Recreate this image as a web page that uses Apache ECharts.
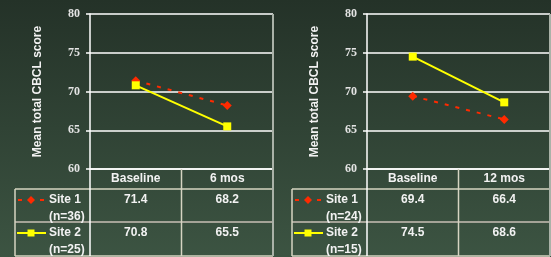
<!DOCTYPE html>
<html><head><meta charset="utf-8">
<script src="https://cdn.jsdelivr.net/npm/echarts@6/dist/echarts.min.js"></script>
<style>html,body{margin:0;padding:0;background:#2f4233}#c{width:551px;height:257px}</style>
</head><body><div id="c"></div>
<script>
// ---- data ----
const leftCategories = ['Baseline', '6 mos'];
const rightCategories = ['Baseline', '12 mos'];
const leftSite1 = [71.4, 68.2];
const leftSite2 = [70.8, 65.5];
const rightSite1 = [69.4, 66.4];
const rightSite2 = [74.5, 68.6];
const leftSite1Label = ['Site 1', '(n=36)'];
const leftSite2Label = ['Site 2', '(n=25)'];
const rightSite1Label = ['Site 1', '(n=24)'];
const rightSite2Label = ['Site 2', '(n=15)'];
const yMin = 60, yMax = 80, yStep = 5;
const yTitle = 'Mean total CBCL score';

// ---- layout ----
const TOP = 14, PLOT_H = 155, PLOT_W = 183;
const HEAD_H = 20, ROW1_H = 33, ROW2_H = 34;
const panels = [
  {gridLeft: 90, tableLeft: 15, cats: leftCategories, s1: leftSite1, s2: leftSite2, l1: leftSite1Label, l2: leftSite2Label},
  {gridLeft: 367, tableLeft: 292, cats: rightCategories, s1: rightSite1, s2: rightSite2, l1: rightSite1Label, l2: rightSite2Label}
];
const RED = '#ff2a00', YEL = '#ffff00', LINEC = '#d6d4c2', TXT = '#f2f2f2';

const chart = echarts.init(document.getElementById('c'), null, {renderer: 'canvas'});

const grids = [], xAxes = [], yAxes = [], series = [], graphics = [];
panels.forEach((p, i) => {
  grids.push({left: p.gridLeft, top: TOP, width: PLOT_W, height: PLOT_H, show: false});
  xAxes.push({
    type: 'category', gridIndex: i, data: p.cats, boundaryGap: true,
    axisLine: {show: true, lineStyle: {color: '#ffffff', width: 1.5}},
    axisTick: {show: false},
    axisLabel: {color: TXT, fontFamily: 'Arial, Liberation Sans', fontWeight: 'bold', fontSize: 12, margin: 4},
    splitLine: {show: false}
  });
  yAxes.push({
    type: 'value', gridIndex: i, min: yMin, max: yMax, interval: yStep,
    name: yTitle, nameLocation: 'middle', nameRotate: 90, nameGap: 46,
    nameTextStyle: {color: TXT, fontFamily: 'Arial, Liberation Sans', fontWeight: 'bold', fontSize: 12},
    axisLine: {show: true, lineStyle: {color: '#ffffff', width: 1.5}},
    axisTick: {show: true, length: 4, lineStyle: {color: '#ffffff', width: 1.5}},
    axisLabel: {color: '#e4e4e4', fontFamily: 'Liberation Serif, Times New Roman', fontWeight: 'bold', fontSize: 12, margin: 10},
    splitLine: {show: true, lineStyle: {color: '#ffffff', width: 1.5}}
  });
  series.push({
    type: 'line', xAxisIndex: i, yAxisIndex: i, data: p.s1, name: p.l1.join(' '),
    symbol: 'diamond', symbolSize: 9, itemStyle: {color: RED},
    lineStyle: {color: RED, width: 2, type: [4, 7]}, z: 2, animation: false
  });
  series.push({
    type: 'line', xAxisIndex: i, yAxisIndex: i, data: p.s2, name: p.l2.join(' '),
    symbol: 'rect', symbolSize: 8, itemStyle: {color: YEL},
    lineStyle: {color: YEL, width: 2, type: 'solid'}, z: 3, animation: false
  });

  // ---- table ----
  const gL = p.gridLeft, gR = p.gridLeft + PLOT_W, tL = p.tableLeft;
  const axisY = TOP + PLOT_H, r1 = axisY + HEAD_H, r2 = r1 + ROW1_H, bot = r2 + ROW2_H;
  const colW = PLOT_W / p.cats.length;
  const ln = (x1, y1, x2, y2, c, w) => graphics.push({type: 'line', silent: true, z: 1,
    shape: {x1, y1, x2, y2}, style: {stroke: c || LINEC, lineWidth: w || 1.5}});
  ln(tL, r1, gR, r1);
  ln(tL, r2, gR, r2, '#c9bfb6');
  ln(tL, bot, gR, bot);
  ln(tL, r1, tL, bot);
  ln(gL, axisY, gL, bot, '#ffffff');
  for (let k = 1; k < p.cats.length; k++) ln(gL + colW * k, axisY, gL + colW * k, bot);
  ln(gR, TOP, gR, bot, '#aab2a8', 2);

  const txt = (x, y, s, align) => graphics.push({type: 'text', silent: true, z: 5, x, y,
    style: {text: s, fill: TXT, font: 'bold 12px Arial, Liberation Sans', align: align || 'center', verticalAlign: 'middle'}});
  p.cats.forEach((c, k) => {
    txt(gL + colW * (k + 0.5), r1 + 11, p.s1[k].toFixed(1));
    txt(gL + colW * (k + 0.5), r2 + 11, p.s2[k].toFixed(1));
  });
  txt(tL + 34, r1 + 11, p.l1[0], 'left');
  txt(tL + 34, r1 + 28, p.l1[1], 'left');
  txt(tL + 34, r2 + 11, p.l2[0], 'left');
  txt(tL + 34, r2 + 28, p.l2[1], 'left');

  // legend keys
  const ky1 = r1 + 11, ky2 = r2 + 11, kx = tL + 3;
  graphics.push({type: 'line', silent: true, z: 5, shape: {x1: kx, y1: ky1, x2: kx + 4, y2: ky1}, style: {stroke: RED, lineWidth: 2}});
  graphics.push({type: 'line', silent: true, z: 5, shape: {x1: kx + 22, y1: ky1, x2: kx + 26, y2: ky1}, style: {stroke: RED, lineWidth: 2}});
  graphics.push({type: 'polygon', silent: true, z: 5, shape: {points: [[kx + 13, ky1 - 4], [kx + 17, ky1], [kx + 13, ky1 + 4], [kx + 9, ky1]]}, style: {fill: RED}});
  graphics.push({type: 'line', silent: true, z: 5, shape: {x1: kx - 1, y1: ky2, x2: kx + 28, y2: ky2}, style: {stroke: YEL, lineWidth: 2}});
  graphics.push({type: 'rect', silent: true, z: 5, shape: {x: kx + 9.5, y: ky2 - 3.5, width: 7, height: 7}, style: {fill: YEL}});
});

chart.setOption({
  animation: false,
  backgroundColor: new echarts.graphic.LinearGradient(0, 0, 0, 1, [
    {offset: 0, color: '#243228'}, {offset: 1, color: '#3c5442'}
  ]),
  grid: grids, xAxis: xAxes, yAxis: yAxes, series: series,
  graphic: {elements: graphics}
});
</script></body></html>
